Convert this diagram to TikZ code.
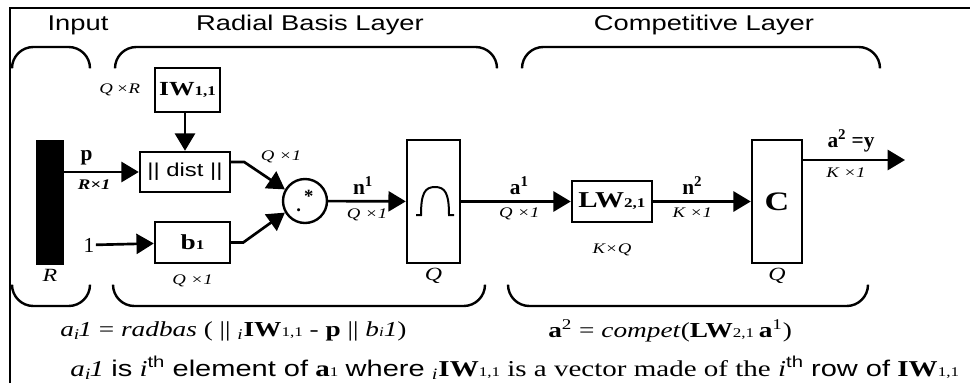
\documentclass[tikz,border=0pt]{standalone}
\usepackage{amsmath}
\usepackage{graphicx}
\usepackage{fontspec}
\setmainfont{Liberation Serif}
\setsansfont{Liberation Sans}
\usetikzlibrary{arrows.meta,positioning}
\newcommand{\hs}[1]{\scalebox{1.28}[1]{#1}}
\newcommand{\lo}[1]{{\fontsize{10pt}{10pt}\selectfont #1}}
\newcommand{\supsub}[2]{$_{\text{\itshape #2}}$\kern-1pt\textit{#1}}

\begin{document}
\begin{tikzpicture}[
    x=0.75pt, y=-0.75pt,
    node distance=2pt,
    box/.style={rectangle, draw, line width=1.8pt, inner sep=0pt, font=\fontsize{15pt}{15pt}\selectfont\bfseries},
    bar/.style={rectangle, fill=black, inner sep=0pt, minimum width=21pt, minimum height=93.75pt},
    arr/.style={-{Triangle[length=13pt, width=15pt]}, line width=2pt},
    dimlbl/.style={font=\fontsize{11pt}{11pt}\selectfont\itshape, inner sep=1pt},
    bigdim/.style={font=\fontsize{14pt}{14pt}\selectfont\itshape, inner sep=1pt},
    sig/.style={font=\fontsize{16pt}{16pt}\selectfont\bfseries, inner sep=1pt},
    title/.style={font=\fontsize{16pt}{16pt}\selectfont\sffamily},
    brace/.style={line width=1.8pt, rounded corners=16pt},
    eqn/.style={anchor=west, inner sep=0pt, font=\fontsize{16pt}{16pt}\selectfont}
  ]
    \useasboundingbox (0,0) rectangle (970,383);
    \draw[line width=1.2pt] (10,383) -- (10,8) -- (970,8);

    % layer titles and braces
    \node[title] (tin) at (78,25) {\hs{Input}};
    \node[title] (trb) at (310,25) {\hs{Radial Basis Layer}};
    \node[title] (tcl) at (704,25) {\hs{Competitive Layer}};
    \draw[brace] (12,68) |- (90,47) -- (90,68);
    \draw[brace] (115,68) |- (497,47) -- (497,68);
    \draw[brace] (522,68) |- (880,47) -- (880,68);
    \draw[brace] (12,285) |- (90,306) -- (90,285);
    \draw[brace] (113,285) |- (485,306) -- (485,285);
    \draw[brace] (508,285) |- (868,306) -- (868,285);

    % input
    \node[bar] (bar) at (50,202.5) {};
    \node[bigdim, below=2pt of bar] (R) {\hs{R}};

    % radial basis layer
    \node[box, minimum width=48.75pt, minimum height=33pt] (IW) at (187.5,90) {\hs{IW\lo{1,1}}};
    \node[dimlbl, left=9pt of IW] (IWdim) {\hs{Q\,×R}};
    \node[box, minimum width=67.5pt, minimum height=30pt, font=\fontsize{14pt}{14pt}\selectfont\sffamily] (dist) at (185,172) {\hs{|| dist ||}};
    \node[box, minimum width=56.25pt, minimum height=30.75pt, font=\fontsize{16pt}{16pt}\selectfont\bfseries] (b) at (192.5,242.5) {\hs{b\lo{1}}};
    \node[dimlbl, below=7pt of b] (bdim) {\hs{Q ×1}};
    \node[sig, font=\fontsize{16pt}{16pt}\selectfont] (one) at (89,245) {1};
    \node[dimlbl] (ddim) at (281,157) {\hs{Q ×1}};
    \node[circle, draw, line width=1.8pt, minimum size=33pt, inner sep=0pt, font=\fontsize{14pt}{14pt}\selectfont\bfseries] (dot) at (305,201) {\raisebox{-0.3em}{.}\,\raisebox{0.15em}{*}};
    \node[box, minimum width=39.75pt, minimum height=92.25pt] (rad) at (433.5,201.5) {};
    \node[bigdim, below=2pt of rad] (Q1) {\hs{Q}};
    \draw[line width=1.5pt] (416,215) -- (421,215) .. controls (421,193) and (425,187) .. (435,187)
      .. controls (445,187) and (449,193) .. (449,215) -- (454,215);

    % competitive layer
    \node[box, minimum width=60pt, minimum height=30.75pt, font=\fontsize{17pt}{17pt}\selectfont\bfseries] (LW) at (612,201.5) {\hs{LW\lo{2,1}}};
    \node[dimlbl, below=14pt of LW] (LWdim) {\hs{K×Q}};
    \node[box, minimum width=37.5pt, minimum height=92.25pt, font=\fontsize{20pt}{20pt}\selectfont\bfseries] (C) at (777,201.5) {\hs{C}};
    \node[bigdim, below=2pt of C] (Q2) {\hs{Q}};
    \coordinate (out) at (905,160);

    % connectors
    \draw[arr] (bar.east |- dist) -- node[sig, above=3pt, pos=0.3] {p} node[dimlbl, below=4pt, pos=0.4, font=\fontsize{11pt}{11pt}\selectfont\bfseries\itshape] {\hs{R×1}} (dist);
    \draw[arr] (IW.south -| dist) -- (dist);
    \draw[arr] (one) -- (b);
    \draw[arr] ([yshift=7.5pt]dist.east) -- ++(13,0) -- (dot.150);
    \draw[arr] (b.east) -- ++(12,0) -- (dot.210);
    \draw[arr] (dot) -- node[sig, above=3pt, pos=0.45] {n\textsuperscript{1}} node[dimlbl, below=4pt] {\hs{Q ×1}} (rad);
    \draw[arr] (rad) -- node[sig, above=3pt, pos=0.53] {a\textsuperscript{1}} node[dimlbl, below=3pt, pos=0.53] {\hs{Q ×1}} (LW);
    \draw[arr] (LW) -- node[sig, above=3pt, pos=0.4] {n\textsuperscript{2}} node[dimlbl, below=3pt, pos=0.4] {\hs{K ×1}} (C);
    \draw[arr] (C.east |- out) -- node[sig, above=4pt, pos=0.47] {a\textsuperscript{2} =y} node[dimlbl, below=4pt, pos=0.42] {\hs{K ×1}} (out);

    % equations
    \node[eqn] (eq1) at (60,331) {\hs{\textit{a}\supsub{1}{i} = \textit{radbas} ( || ${}_{\text{\itshape i}}$\textbf{IW}\lo{1,1} - \textbf{p} || \textit{b}\lo{\itshape i}\textit{1})}};
    \node[eqn] (eq2) at (548,331) {\hs{\textbf{a}\textsuperscript{2} = \textit{compet}(\textbf{LW}\lo{2,1}\,\textbf{a}\textsuperscript{1})}};
    \node[eqn, font=\fontsize{17pt}{17pt}\selectfont] (eq3) at (70,368) {\hs{\textit{a}\supsub{1}{i} \textsf{is} \textit{i}\textsuperscript{\sffamily th} \textsf{element of} \textbf{a}\lo{1} \textsf{where} ${}_{\text{\itshape i}}$\textbf{IW}\lo{1,1} is a vector made of the \textit{i}\textsuperscript{\sffamily th} \textsf{row of} \textbf{IW}\lo{1,1}}};
  \end{tikzpicture}
\end{document}
